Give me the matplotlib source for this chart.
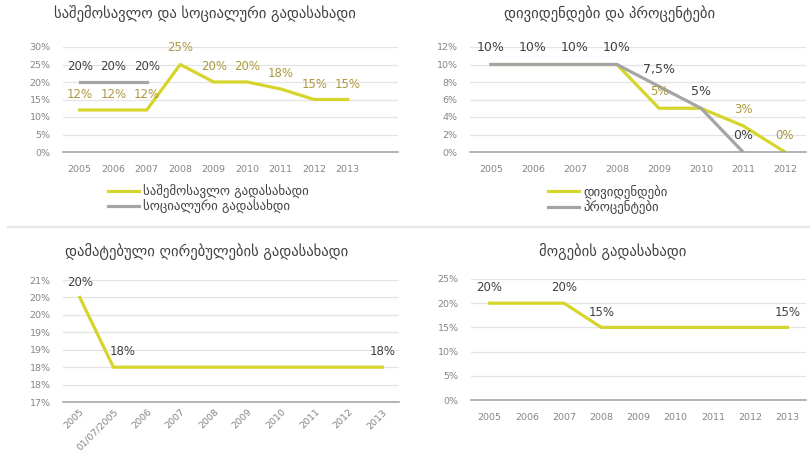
import matplotlib
matplotlib.use("Agg")
import matplotlib.pyplot as plt
from matplotlib.ticker import FuncFormatter
from matplotlib.lines import Line2D

# chart 1: income tax and social tax
years1 = ["2005", "2006", "2007", "2008", "2009", "2010", "2011", "2012", "2013", ""]
income_tax = [0.12, 0.12, 0.12, 0.25, 0.20, 0.20, 0.18, 0.15, 0.15]
social_tax = [0.20, 0.20, 0.20]

# chart 2: dividends and interest
years2 = ["2005", "2006", "2007", "2008", "2009", "2010", "2011", "2012"]
dividends = [0.10, 0.10, 0.10, 0.10, 0.05, 0.05, 0.03, 0.00]
interest = [0.10, 0.10, 0.10, 0.10, 0.075, 0.05, 0.00]

# chart 3: VAT
years3 = ["2005", "01/07/2005", "2006", "2007", "2008", "2009", "2010", "2011", "2012", "2013"]
vat = [0.20, 0.18, 0.18, 0.18, 0.18, 0.18, 0.18, 0.18, 0.18, 0.18]

# chart 4: profit tax
years4 = ["2005", "2006", "2007", "2008", "2009", "2010", "2011", "2012", "2013"]
profit_tax = [0.20, 0.20, 0.20, 0.15, 0.15, 0.15, 0.15, 0.15, 0.15]

YELLOW = "#d6d52c"
GREY = "#a5a5a5"
GOLD = "#ad983f"
DARK = "#404040"
TICK = "#858585"

plt.rcParams["font.family"] = ["DejaVu Sans"]

W, H = 810, 453
fig = plt.figure(figsize=(W / 100, H / 100), dpi=100)


def make_ax(x0, x1, y0, y1):
    return fig.add_axes([x0 / W, 1 - y1 / H, (x1 - x0) / W, (y1 - y0) / H])


def style(ax, labels, ylim, step, decimals=0, rot=0):
    ax.set_xlim(-0.5, len(labels) - 0.5)
    ax.set_ylim(*ylim)
    ticks = []
    v = ylim[0]
    while v <= ylim[1] + 1e-9:
        ticks.append(v)
        v += step
    ax.set_yticks(ticks)
    ax.yaxis.set_major_formatter(FuncFormatter(lambda v, p: f"{v * 100:.{decimals}f}%"))
    ax.set_xticks(range(len(labels)))
    if rot:
        ax.set_xticklabels(labels, rotation=rot, ha="right", rotation_mode="anchor")
    else:
        ax.set_xticklabels(labels)
    ax.tick_params(length=0, labelsize=6.8, labelcolor=TICK, pad=9)
    ax.grid(axis="y", color="#e4e4e4", lw=0.9)
    ax.set_axisbelow(True)
    for s in ["top", "right", "left"]:
        ax.spines[s].set_visible(False)
    ax.spines["bottom"].set_color("#a0a0a0")
    ax.spines["bottom"].set_linewidth(1.1)
    ax.set_facecolor("none")


def label(ax, x, y, text, color, dx=0, dy=11, size=8.5):
    ax.annotate(text, (x, y), xytext=(dx, dy), textcoords="offset points",
                ha="center", va="center", color=color, fontsize=size,
                annotation_clip=False)


def add_legend(ax, names, x, y):
    ax.legend([Line2D([], [], color=YELLOW, lw=2.3), Line2D([], [], color=GREY, lw=2.3)],
              names, loc="upper left", bbox_to_anchor=(x / W, 1 - y / H),
              bbox_transform=fig.transFigure, frameon=False, fontsize=9.3,
              labelcolor=DARK, handlelength=2.4, handletextpad=0.3,
              labelspacing=0.1, borderpad=0)


pct = lambda v: f"{v * 100:g}%".replace(".", ",")

# ---- chart 1
ax1 = make_ax(63, 398, 47, 152)
style(ax1, years1, (0, 0.30), 0.05)
ax1.plot(range(len(income_tax)), income_tax, color=YELLOW, lw=2.3)
ax1.plot(range(len(social_tax)), social_tax, color=GREY, lw=2.3)
for i, v in enumerate(income_tax):
    label(ax1, i, v, pct(v), GOLD, dy=12 if i == 3 else 11)
for i, v in enumerate(social_tax):
    label(ax1, i, v, pct(v), DARK)
fig.text(205 / W, 1 - 14 / H, "საშემოსავლო და სოციალური გადასახადი",
         ha="center", va="center", fontsize=10.5, color="#404040")
add_legend(ax1, ["საშემოსავლო გადასახადი", "სოციალური გადასახდი"], 102, 178)

# ---- chart 2
ax2 = make_ax(470, 806, 47, 152)
style(ax2, years2, (0, 0.12), 0.02)
ax2.plot(range(len(dividends)), dividends, color=YELLOW, lw=2.3)
ax2.plot(range(len(interest)), interest, color=GREY, lw=2.3)
for i in [4, 6, 7]:
    label(ax2, i, dividends[i], pct(dividends[i]), GOLD, dy=12)
for i, v in enumerate(interest):
    label(ax2, i, v, pct(v), DARK, dy=12, size=9)
fig.text(610 / W, 1 - 14 / H, "დივიდენდები და პროცენტები",
         ha="center", va="center", fontsize=10.5, color="#404040")
add_legend(ax2, ["დივიდენდები", "პროცენტები"], 542, 178)

# separator between rows
fig.add_artist(Line2D([8 / W, 1], [1 - 227 / H] * 2, color="#e6e6e6", lw=1.5))

# ---- chart 3
ax3 = make_ax(63, 399, 280, 402)
style(ax3, years3, (0.17, 0.205), 0.005, rot=45)
ax3.tick_params(axis="x", pad=4)
ax3.plot(range(len(vat)), vat, color=YELLOW, lw=2.3)
for i, dx in [(0, 0), (1, 7), (9, 0)]:
    label(ax3, i, vat[i], pct(vat[i]), DARK, dx=dx)
fig.text(207 / W, 1 - 252 / H, "დამატებული ღირებულების გადასახადი",
         ha="center", va="center", fontsize=10.5, color="#404040")

# ---- chart 4
ax4 = make_ax(471, 806, 279, 400)
style(ax4, years4, (0, 0.25), 0.05)
ax4.plot(range(len(profit_tax)), profit_tax, color=YELLOW, lw=2.3)
for i in [0, 2, 3, 8]:
    label(ax4, i, profit_tax[i], pct(profit_tax[i]), DARK)
fig.text(613 / W, 1 - 252 / H, "მოგების გადასახადი",
         ha="center", va="center", fontsize=10.5, color="#404040")

fig.savefig("out.png", dpi=100)
